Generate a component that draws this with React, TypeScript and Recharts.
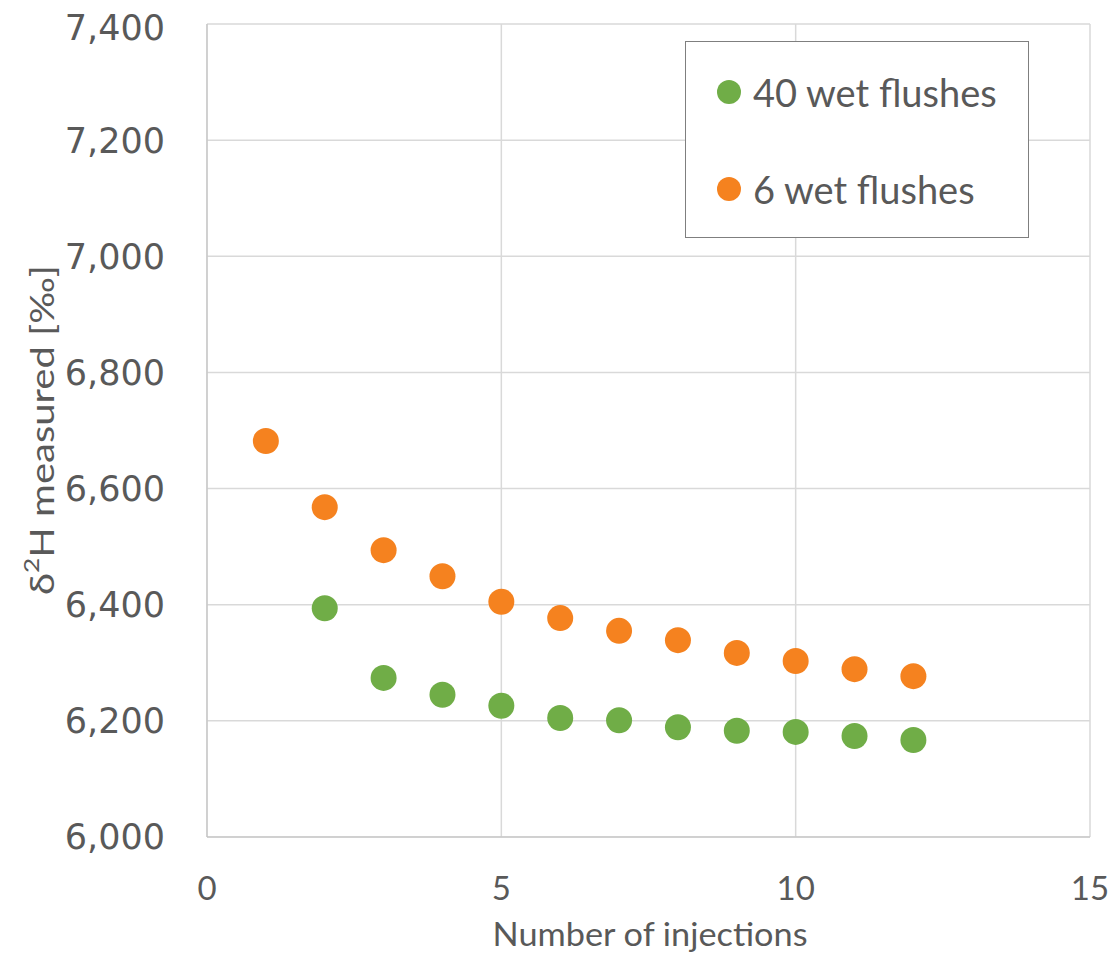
import { CartesianGrid, ResponsiveContainer, Scatter, ScatterChart, XAxis, YAxis } from "recharts";

const injections6 = [1, 2, 3, 4, 5, 6, 7, 8, 9, 10, 11, 12];
const wet6 = [6682, 6568, 6494, 6449, 6405, 6377, 6355, 6339, 6317, 6303, 6289, 6277];

const injections40 = [2, 3, 4, 5, 6, 7, 8, 9, 10, 11, 12];
const wet40 = [6394, 6274, 6245, 6226, 6205, 6201, 6189, 6183, 6181, 6174, 6167];

const xTicks = [0, 5, 10, 15];
const yTicks = [6000, 6200, 6400, 6600, 6800, 7000, 7200, 7400];

const GREEN = "#70AD47";
const ORANGE = "#F5821F";
const TEXT = "#595959";
const SANS = "Lato, 'Open Sans', sans-serif";

const data40 = injections40.map((x, i) => ({ x, y: wet40[i] }));
const data6 = injections6.map((x, i) => ({ x, y: wet6[i] }));

const dot = (color: string) => (props: any) =>
  <circle cx={props.cx} cy={props.cy} r={13} fill={color} />;

function LegendBox() {
  const items = [
    { label: "40 wet flushes", color: GREEN, top: 50 },
    { label: "6 wet flushes", color: ORANGE, top: 147 },
  ];
  return (
    <div style={{ position: "absolute", left: 677, top: 33, width: 344, height: 197, border: "1.5px solid #7F7F7F", boxSizing: "border-box", background: "#fff" }}>
      {items.map((it) => (
        <div key={it.label} style={{ position: "absolute", left: 31, top: it.top - 22, height: 44, display: "flex", alignItems: "center" }}>
          <span style={{ width: 24, height: 24, borderRadius: 12, background: it.color, display: "inline-block", marginRight: 12 }} />
          <span style={{ fontFamily: SANS, fontSize: 38, color: TEXT }}>{it.label}</span>
        </div>
      ))}
    </div>
  );
}

export default function App() {
  return (
    <div style={{ position: "relative", width: 1109, height: 948 }}>
      <ResponsiveContainer width="100%" height="100%">
        <ScatterChart margin={{ top: 16, right: 27, bottom: 0, left: 0 }}>
          <CartesianGrid stroke="#D9D9D9" strokeWidth={1.5} />
          <XAxis
            type="number"
            dataKey="x"
            domain={[0, 15]}
            ticks={xTicks}
            height={119}
            tickSize={0}
            tickMargin={40}
            tickLine={false}
            stroke="#BFBFBF"
            tick={{ fill: TEXT, fontSize: 33, fontFamily: SANS }}
            label={{
              content: () => (
                <text x={642} y={925} textAnchor="middle" dominantBaseline="central" fill={TEXT} fontSize={33} fontFamily={SANS} textLength={315} lengthAdjust="spacingAndGlyphs">
                  Number of injections
                </text>
              ),
            }}
          />
          <YAxis
            type="number"
            dataKey="y"
            domain={[6000, 7400]}
            ticks={yTicks}
            width={199}
            tickSize={0}
            tickMargin={42}
            tickLine={false}
            stroke="#BFBFBF"
            tickFormatter={(v: number) => v.toLocaleString("en-US")}
            tick={{ fill: TEXT, fontSize: 35, fontFamily: "'DejaVu Sans', Verdana, sans-serif" }}
            label={{
              content: () => (
                <text x={33} y={422} transform="rotate(-90 33 422)" textAnchor="middle" dominantBaseline="central" fill={TEXT} fontSize={32} fontFamily={SANS} textLength={330} lengthAdjust="spacingAndGlyphs">
                  δ<tspan dy={-11} fontSize={21}>2</tspan><tspan dy={11}>H measured [‰]</tspan>
                </text>
              ),
            }}
          />
          <Scatter name="40 wet flushes" data={data40} fill={GREEN} shape={dot(GREEN)} isAnimationActive={false} />
          <Scatter name="6 wet flushes" data={data6} fill={ORANGE} shape={dot(ORANGE)} isAnimationActive={false} />
        </ScatterChart>
      </ResponsiveContainer>
      <LegendBox />
    </div>
  );
}
